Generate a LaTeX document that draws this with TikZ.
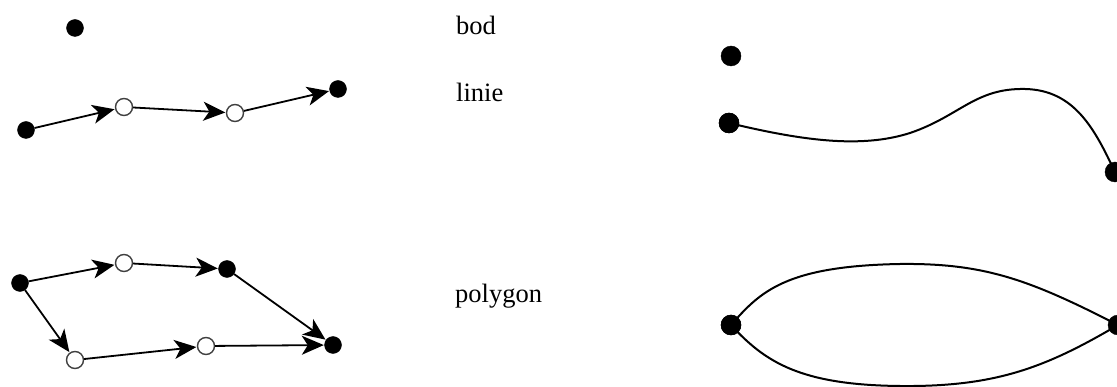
\documentclass[tikz,border=0pt]{standalone}
\usepackage{fontspec}
\setmainfont{Liberation Serif}
\usetikzlibrary{arrows.meta}
\begin{document}
\begin{tikzpicture}[x=1pt,y=-1pt,
  full/.style={circle,fill=black,draw=black,inner sep=0pt,minimum size=17pt},
  bigfull/.style={circle,fill=black,draw=black,inner sep=0pt,minimum size=20pt},
  hollow/.style={circle,fill=white,draw=black!75,line width=1.4pt,inner sep=0pt,minimum size=17pt},
  arr/.style={line width=1.8pt,-{Stealth[length=22pt,width=19pt,inset=6pt]},shorten >=0.5pt},
  curve/.style={line width=2pt},
  lbl/.style={anchor=base west,inner sep=0pt,font=\fontsize{26.5}{30}\selectfont}
]
\useasboundingbox (0,0) rectangle (1117,387);
% bod
\node[full] (p0) at (75,28) {};
% linie
\node[full] (l1) at (26,130) {};
\node[hollow] (l2) at (124,107) {};
\node[hollow] (l3) at (235,113) {};
\node[full] (l4) at (338,89) {};
\draw[arr] (l1) -- (l2);
\draw[arr] (l2) -- (l3);
\draw[arr] (l3) -- (l4);
% polygon
\node[full] (a) at (20,283) {};
\node[hollow] (b) at (124,263) {};
\node[full] (c) at (227,269) {};
\node[full] (d) at (333,345) {};
\node[hollow] (e) at (75,360) {};
\node[hollow] (f) at (206,346) {};
\draw[arr] (a) -- (b);
\draw[arr] (b) -- (c);
\draw[arr] (c) -- (d);
\draw[arr] (a) -- (e);
\draw[arr] (e) -- (f);
\draw[arr] (f) -- (d);
% labels
\node[lbl] (t1) at (456,35) {bod};
\node[lbl] (t2) at (456,102) {linie};
\node[lbl] (t3) at (455,303) {polygon};
% right side
\node[bigfull] (r0) at (731,56) {};
\node[bigfull] (r1) at (729,123) {};
\node[bigfull] (r2) at (1115,172) {};
\draw[curve] (r1.center) .. controls (800,140) and (860,149) .. (910,133)
  .. controls (960,116) and (975,88) .. (1025,89)
  .. controls (1075,90) and (1095,130) .. (r2.center);
\node[bigfull] (q1) at (731,325) {};
\node[bigfull] (q2) at (1118,325) {};
\draw[curve] (q1.center) .. controls (760,292) and (785,266) .. (900,264)
  .. controls (985,263) and (1030,280) .. (q2.center);
\draw[curve] (q1.center) .. controls (765,362) and (800,385) .. (900,386)
  .. controls (995,387) and (1045,368) .. (q2.center);
\node[bigfull] at (q1) {};
\node[bigfull] at (r1) {};
\end{tikzpicture}
\end{document}
